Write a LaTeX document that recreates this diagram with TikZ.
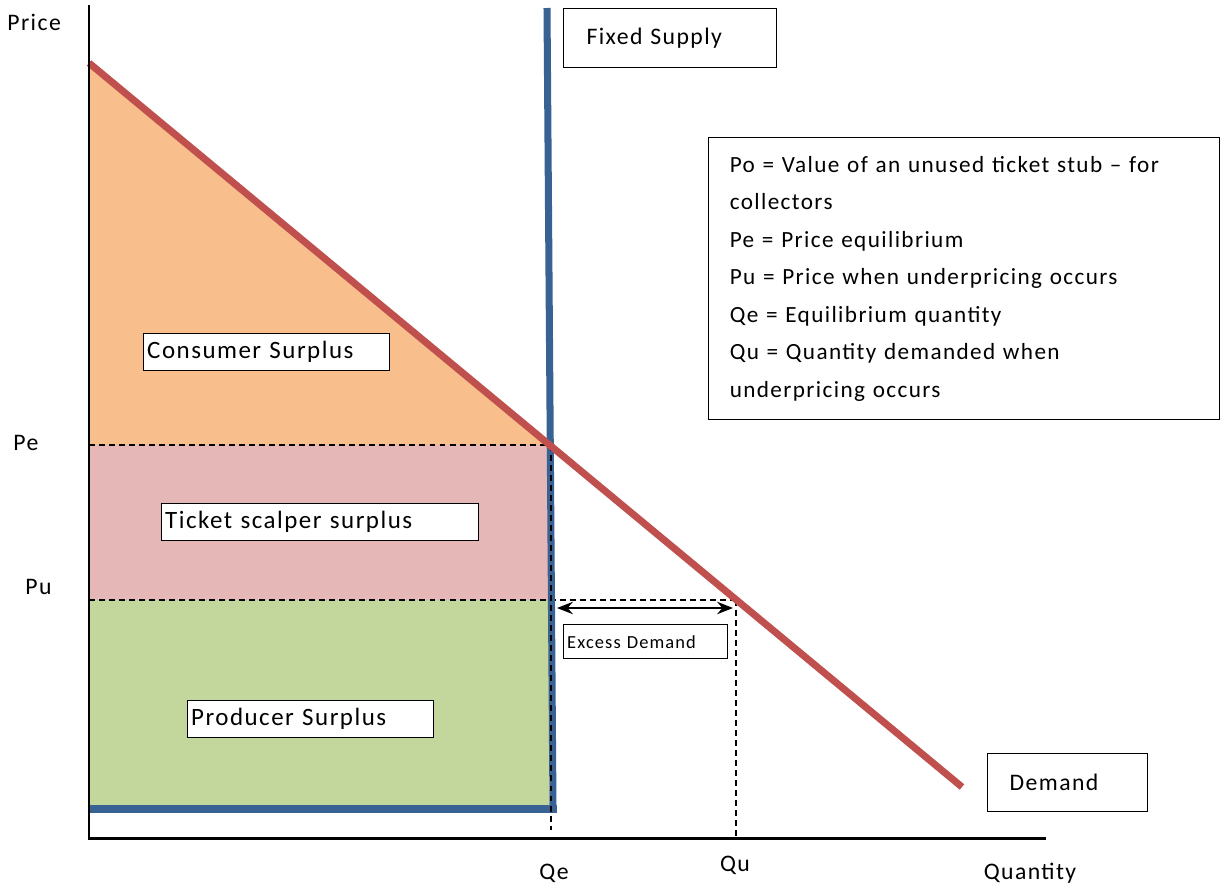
\documentclass[tikz,border=0pt]{standalone}
\usepackage{fontspec}
\setmainfont{Carlito}[LetterSpace=6]
\usetikzlibrary{arrows.meta}
\definecolor{csfill}{RGB}{248,190,140}
\definecolor{tsfill}{RGB}{229,183,183}
\definecolor{psfill}{RGB}{195,214,155}
\definecolor{demred}{RGB}{192,80,77}
\definecolor{supblue}{RGB}{56,98,148}
\tikzset{
  axis/.style={line width=1.7pt, black},
  demandline/.style={line width=4pt, demred},
  supplyline/.style={line width=4pt, supblue},
  guide/.style={line width=0.9pt, dash pattern=on 3.4pt off 2.3pt, black},
  lbl/.style={inner sep=0pt, font=\fontsize{13.5}{15}\selectfont},
  box/.style={draw=black, line width=0.8pt, fill=white, anchor=north west, inner xsep=2pt, inner ysep=0pt, align=left},
}
\begin{document}
\begin{tikzpicture}[x=0.02cm, y=-0.02cm]
\useasboundingbox (0,0) rectangle (1220,889);
% key points
\coordinate (ytop) at (89,5);
\coordinate (O) at (89,838);
\coordinate (xend) at (1046,838);
\coordinate (dstart) at (89,63);
\coordinate (dend) at (962,787);
\coordinate (stop) at (547,8);
\coordinate (sbot) at (553,809);
\coordinate (sleft) at (89,809);
\coordinate (sright) at (557,809);
\coordinate (pe) at (89,445);
\coordinate (eq) at (549,445);
\coordinate (pu) at (89,600);
\coordinate (qsup) at (549,600);
\coordinate (qupt) at (736,600);
\coordinate (qeaxis) at (551,830);
\coordinate (qetop) at (551,445);
\coordinate (quaxis) at (736,838);
\coordinate (arrL) at (557,608);
\coordinate (arrR) at (733,608);
% areas
\fill[csfill] (dstart) -- (pe) -- (eq) -- cycle;
\fill[tsfill] (pe) rectangle (qsup);
\fill[psfill] (pu) rectangle (549,809);
% dashed guides
\draw[guide] (pe) -- (eq);
\draw[guide] (pu) -- (qupt);
\draw[guide] (qupt) -- (quaxis);
% supply
\draw[supplyline] (stop) -- (sbot);
\draw[supplyline] (sleft) -- (sright);
\draw[guide] (qetop) -- (qeaxis);
% demand
\draw[demandline] (dstart) -- (dend);
% axes
\draw[axis] (ytop) -- (O) -- (xend);
% excess demand arrow
\draw[line width=1.3pt, {Stealth[length=9pt,width=7pt]}-{Stealth[length=9pt,width=7pt]}] (arrL) -- (arrR);
% axis labels
\node[lbl, anchor=west] (price) at (7,22) {Price};
\node[lbl, anchor=west] (pelbl) at (13,443) {Pe};
\node[lbl, anchor=west] (pulbl) at (25,587) {Pu};
\node[lbl] (qelbl) at (554,873) {Qe};
\node[lbl] (qulbl) at (735,865) {Qu};
\node[lbl] (qlbl) at (1030,873) {Quantity};
% boxes
\node[box, minimum width=4.92cm, minimum height=0.74cm, text width=4.92cm-4pt, font=\fontsize{14.2}{15}\selectfont] (cs) at (143,333) {Consumer Surplus};
\node[box, minimum width=6.34cm, minimum height=0.74cm, text width=6.34cm-4pt, font=\fontsize{14.2}{15}\selectfont] (ts) at (161,503) {Ticket scalper surplus};
\node[box, minimum width=4.92cm, minimum height=0.74cm, text width=4.92cm-4pt, font=\fontsize{14.2}{15}\selectfont] (ps) at (187,700) {Producer Surplus};
\node[box, minimum width=3.28cm, minimum height=0.68cm, text width=3.28cm-4pt, font=\fontsize{10.5}{12}\selectfont] (ed) at (563,624) {Excess Demand};
\node[box, minimum width=4.26cm, minimum height=1.18cm, inner xsep=13pt, text width=4.26cm-26pt, font=\fontsize{13.5}{15}\selectfont] (fs) at (563,8) {Fixed Supply};
\node[box, minimum width=3.2cm, minimum height=1.16cm, inner xsep=12.5pt, text width=3.2cm-25pt, font=\fontsize{13.5}{15}\selectfont] (dm) at (987,753) {Demand};
\node[box, minimum width=10.22cm, minimum height=5.64cm, inner xsep=12pt, text width=10.22cm-24pt, font=\fontsize{13.2}{21.3}\selectfont] (leg) at (708,137) {Po = Value of an unused ticket stub -- for\\collectors\\Pe = Price equilibrium\\Pu = Price when underpricing occurs\\Qe = Equilibrium quantity\\Qu = Quantity demanded when\\underpricing occurs};
\end{tikzpicture}
\end{document}
